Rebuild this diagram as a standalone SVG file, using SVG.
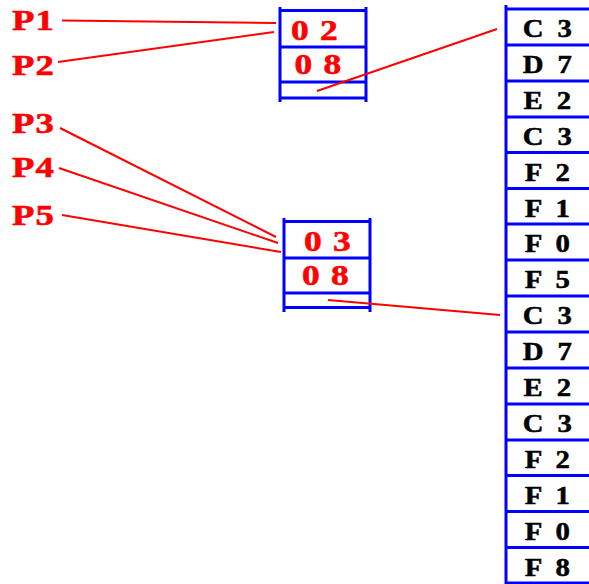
<svg xmlns="http://www.w3.org/2000/svg" width="589" height="584" viewBox="0 0 589 584">
<style>
.bl{stroke:#0000ff;stroke-width:3;fill:none}
.rl{stroke:#ff0000;stroke-width:2;fill:none}
.lab{font-family:"Liberation Serif","Times New Roman",serif;font-weight:bold;font-size:30px;fill:#ff0000;stroke:#ff0000;stroke-width:0.6;letter-spacing:1px}
.num{font-family:"Liberation Serif","Times New Roman",serif;font-weight:bold;font-size:30px;fill:#ff0000;stroke:#ff0000;stroke-width:0.6;text-anchor:middle;letter-spacing:1px}
.pg{font-family:"Liberation Serif","Times New Roman",serif;font-weight:bold;font-size:25px;fill:#000;stroke:#000;stroke-width:0.5;text-anchor:middle;letter-spacing:3px}
</style>
<rect width="589" height="584" fill="#fff"/>
<g id="labels">
<text class="lab" transform="translate(12,30) scale(1.22,1)">P1</text>
<text class="lab" transform="translate(12,75) scale(1.22,1)">P2</text>
<text class="lab" transform="translate(12,133) scale(1.22,1)">P3</text>
<text class="lab" transform="translate(12,177) scale(1.22,1)">P4</text>
<text class="lab" transform="translate(12,225) scale(1.22,1)">P5</text>
</g>
<g id="table1">
<path class="bl" d="M280 7V102M366 7V102M280 10.5H366M280 47H366M280 82H366M280 98H366"/>
<text class="num" transform="translate(315,40) scale(1.18,1)">0 2</text>
<text class="num" transform="translate(318.5,74) scale(1.18,1)">0 8</text>
</g>
<g id="table2">
<path class="bl" d="M284 218V312M370 218V312M284 221.5H370M284 258H370M284 293H370M284 307.5H370"/>
<text class="num" transform="translate(328,251) scale(1.18,1)">0 3</text>
<text class="num" transform="translate(326,285) scale(1.18,1)">0 8</text>
</g>
<g id="pages">
<path class="bl" d="M506 5V584"/>
<path class="bl" d="M506 9H589M506 45H589M506 81H589M506 117H589M506 152.5H589M506 188.5H589M506 224H589M506 260H589M506 296H589M506 332H589M506 368H589M506 404H589M506 440H589M506 475.5H589M506 511.5H589M506 547.5H589M506 583H589"/>
<text class="pg" transform="translate(549,37) scale(1.15,1)">C 3</text>
<text class="pg" transform="translate(549,73) scale(1.15,1)">D 7</text>
<text class="pg" transform="translate(549,109) scale(1.15,1)">E 2</text>
<text class="pg" transform="translate(549,145) scale(1.15,1)">C 3</text>
<text class="pg" transform="translate(549,180.5) scale(1.15,1)">F 2</text>
<text class="pg" transform="translate(549,216.5) scale(1.15,1)">F 1</text>
<text class="pg" transform="translate(549,252) scale(1.15,1)">F 0</text>
<text class="pg" transform="translate(549,288) scale(1.15,1)">F 5</text>
<text class="pg" transform="translate(549,324) scale(1.15,1)">C 3</text>
<text class="pg" transform="translate(549,360) scale(1.15,1)">D 7</text>
<text class="pg" transform="translate(549,396) scale(1.15,1)">E 2</text>
<text class="pg" transform="translate(549,432) scale(1.15,1)">C 3</text>
<text class="pg" transform="translate(549,468) scale(1.15,1)">F 2</text>
<text class="pg" transform="translate(549,503.5) scale(1.15,1)">F 1</text>
<text class="pg" transform="translate(549,539.5) scale(1.15,1)">F 0</text>
<text class="pg" transform="translate(549,575.5) scale(1.15,1)">F 8</text>
</g>
<g id="connectors">
<path class="rl" d="M62 20.5L276 23"/>
<path class="rl" d="M58 62L274 32"/>
<path class="rl" d="M60 128L276 237"/>
<path class="rl" d="M59 168L278 243"/>
<path class="rl" d="M62 215L281 252"/>
<path class="rl" d="M317 91L497 29"/>
<path class="rl" d="M328 300L500 315"/>
</g>
</svg>
